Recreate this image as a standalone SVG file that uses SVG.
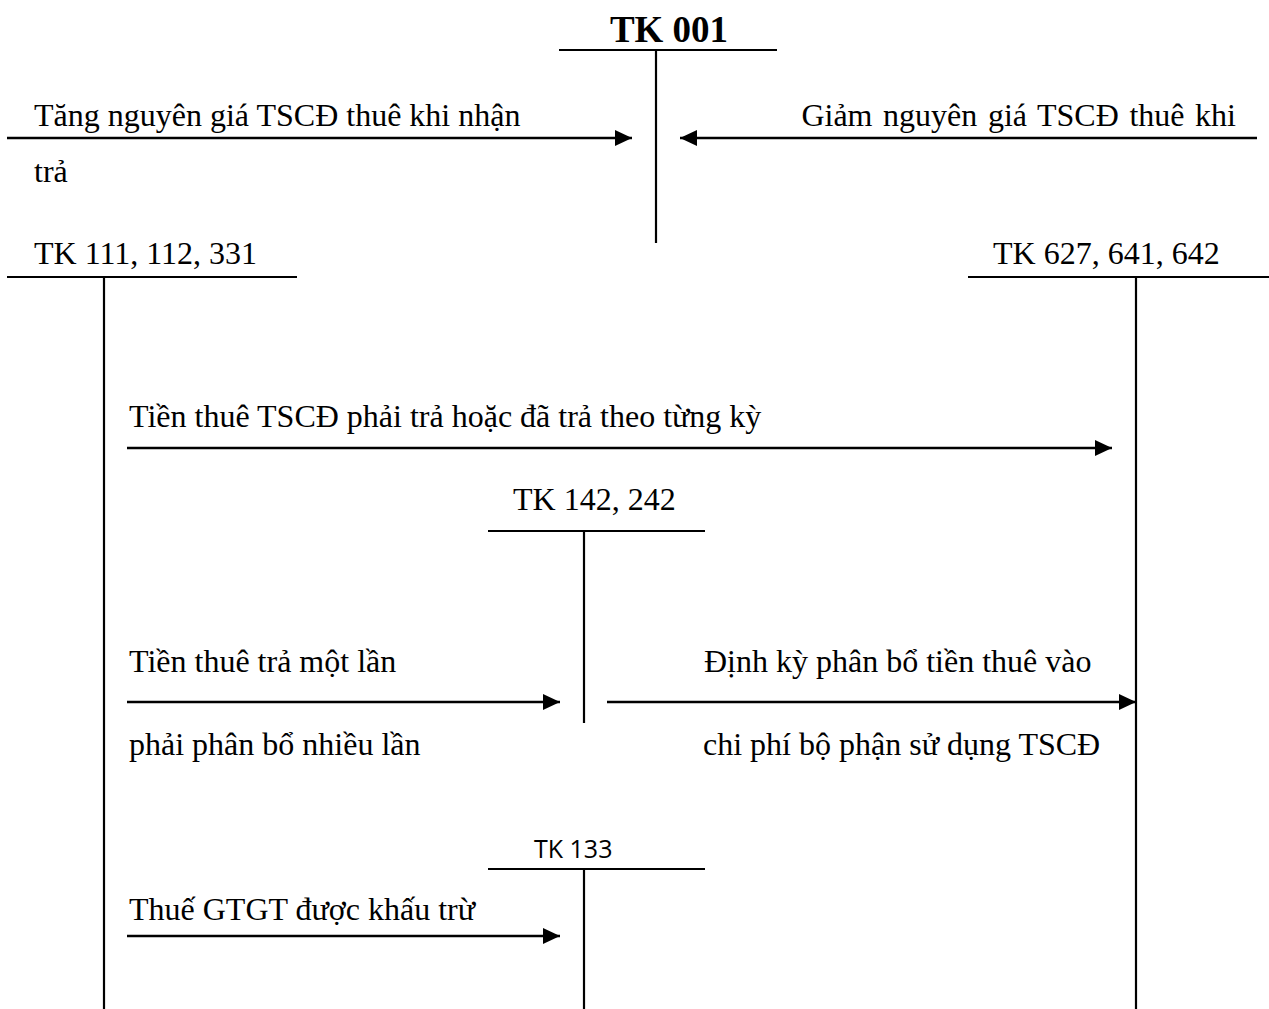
<svg xmlns="http://www.w3.org/2000/svg" width="1269" height="1009" viewBox="0 0 1269 1009">
  <style>
    .t { font-family: "Liberation Serif", "Times New Roman", serif; font-size: 32px; fill: #000; }
    .title { font-family: "Liberation Serif", "Times New Roman", serif; font-size: 37px; font-weight: bold; fill: #000; }
    .s { font-family: "Open Sans", "Liberation Sans", sans-serif; font-size: 25px; fill: #000; }
    .ln { stroke: #000; stroke-width: 2.2; fill: none; }
    .ar { stroke: #000; stroke-width: 2.4; fill: none; marker-end: url(#head); }
  </style>
  <defs>
    <marker id="head" markerUnits="userSpaceOnUse" markerWidth="18" markerHeight="17" refX="17" refY="8" orient="auto">
      <path d="M0,0 L17,8 L0,16 Z" fill="#000"/>
    </marker>
  </defs>
  <rect width="1269" height="1009" fill="#fff"/>

  <!-- T-accounts -->
  <g id="tk001">
    <text class="title" x="669" y="42" text-anchor="middle">TK 001</text>
    <line class="ln" x1="559" y1="50" x2="777" y2="50"/>
    <line class="ln" x1="656" y1="50" x2="656" y2="243"/>
  </g>
  <g id="tk111">
    <text class="t" x="34" y="264">TK 111, 112, 331</text>
    <line class="ln" x1="7" y1="277" x2="297" y2="277"/>
    <line class="ln" x1="104" y1="277" x2="104" y2="1009"/>
  </g>
  <g id="tk627">
    <text class="t" x="993" y="264">TK 627, 641, 642</text>
    <line class="ln" x1="968" y1="277" x2="1269" y2="277"/>
    <line class="ln" x1="1136" y1="277" x2="1136" y2="1009"/>
  </g>
  <g id="tk142">
    <text class="t" x="513" y="510">TK 142, 242</text>
    <line class="ln" x1="488" y1="531" x2="705" y2="531"/>
    <line class="ln" x1="584" y1="531" x2="584" y2="723"/>
  </g>
  <g id="tk133">
    <text class="s" x="534" y="858">TK 133</text>
    <line class="ln" x1="488" y1="869" x2="705" y2="869"/>
    <line class="ln" x1="584" y1="869" x2="584" y2="1009"/>
  </g>

  <!-- Entries -->
  <g id="connectors">
    <line class="ar" x1="7" y1="138" x2="632" y2="138"/>
    <line class="ar" x1="1257" y1="138" x2="680" y2="138"/>
    <line class="ar" x1="127" y1="448" x2="1112" y2="448"/>
    <line class="ar" x1="127" y1="702" x2="560" y2="702"/>
    <line class="ar" x1="607" y1="702" x2="1136" y2="702"/>
    <line class="ar" x1="127" y1="936" x2="560" y2="936"/>
  </g>

  <g id="labels">
    <text class="t" x="34" y="126">Tăng nguyên giá TSCĐ thuê khi nhận</text>
    <text class="t" x="34" y="182">trả</text>
    <text class="t" x="1236" y="126" text-anchor="end" word-spacing="2.6">Giảm nguyên giá TSCĐ thuê khi</text>
    <text class="t" x="129" y="427">Tiền thuê TSCĐ phải trả hoặc đã trả theo từng kỳ</text>
    <text class="t" x="129" y="672">Tiền thuê trả một lần</text>
    <text class="t" x="129" y="755">phải phân bổ nhiều lần</text>
    <text class="t" x="704" y="672">Định kỳ phân bổ tiền thuê vào</text>
    <text class="t" x="703" y="755">chi phí bộ phận sử dụng TSCĐ</text>
    <text class="t" x="129" y="920">Thuế GTGT được khấu trừ</text>
  </g>
</svg>
